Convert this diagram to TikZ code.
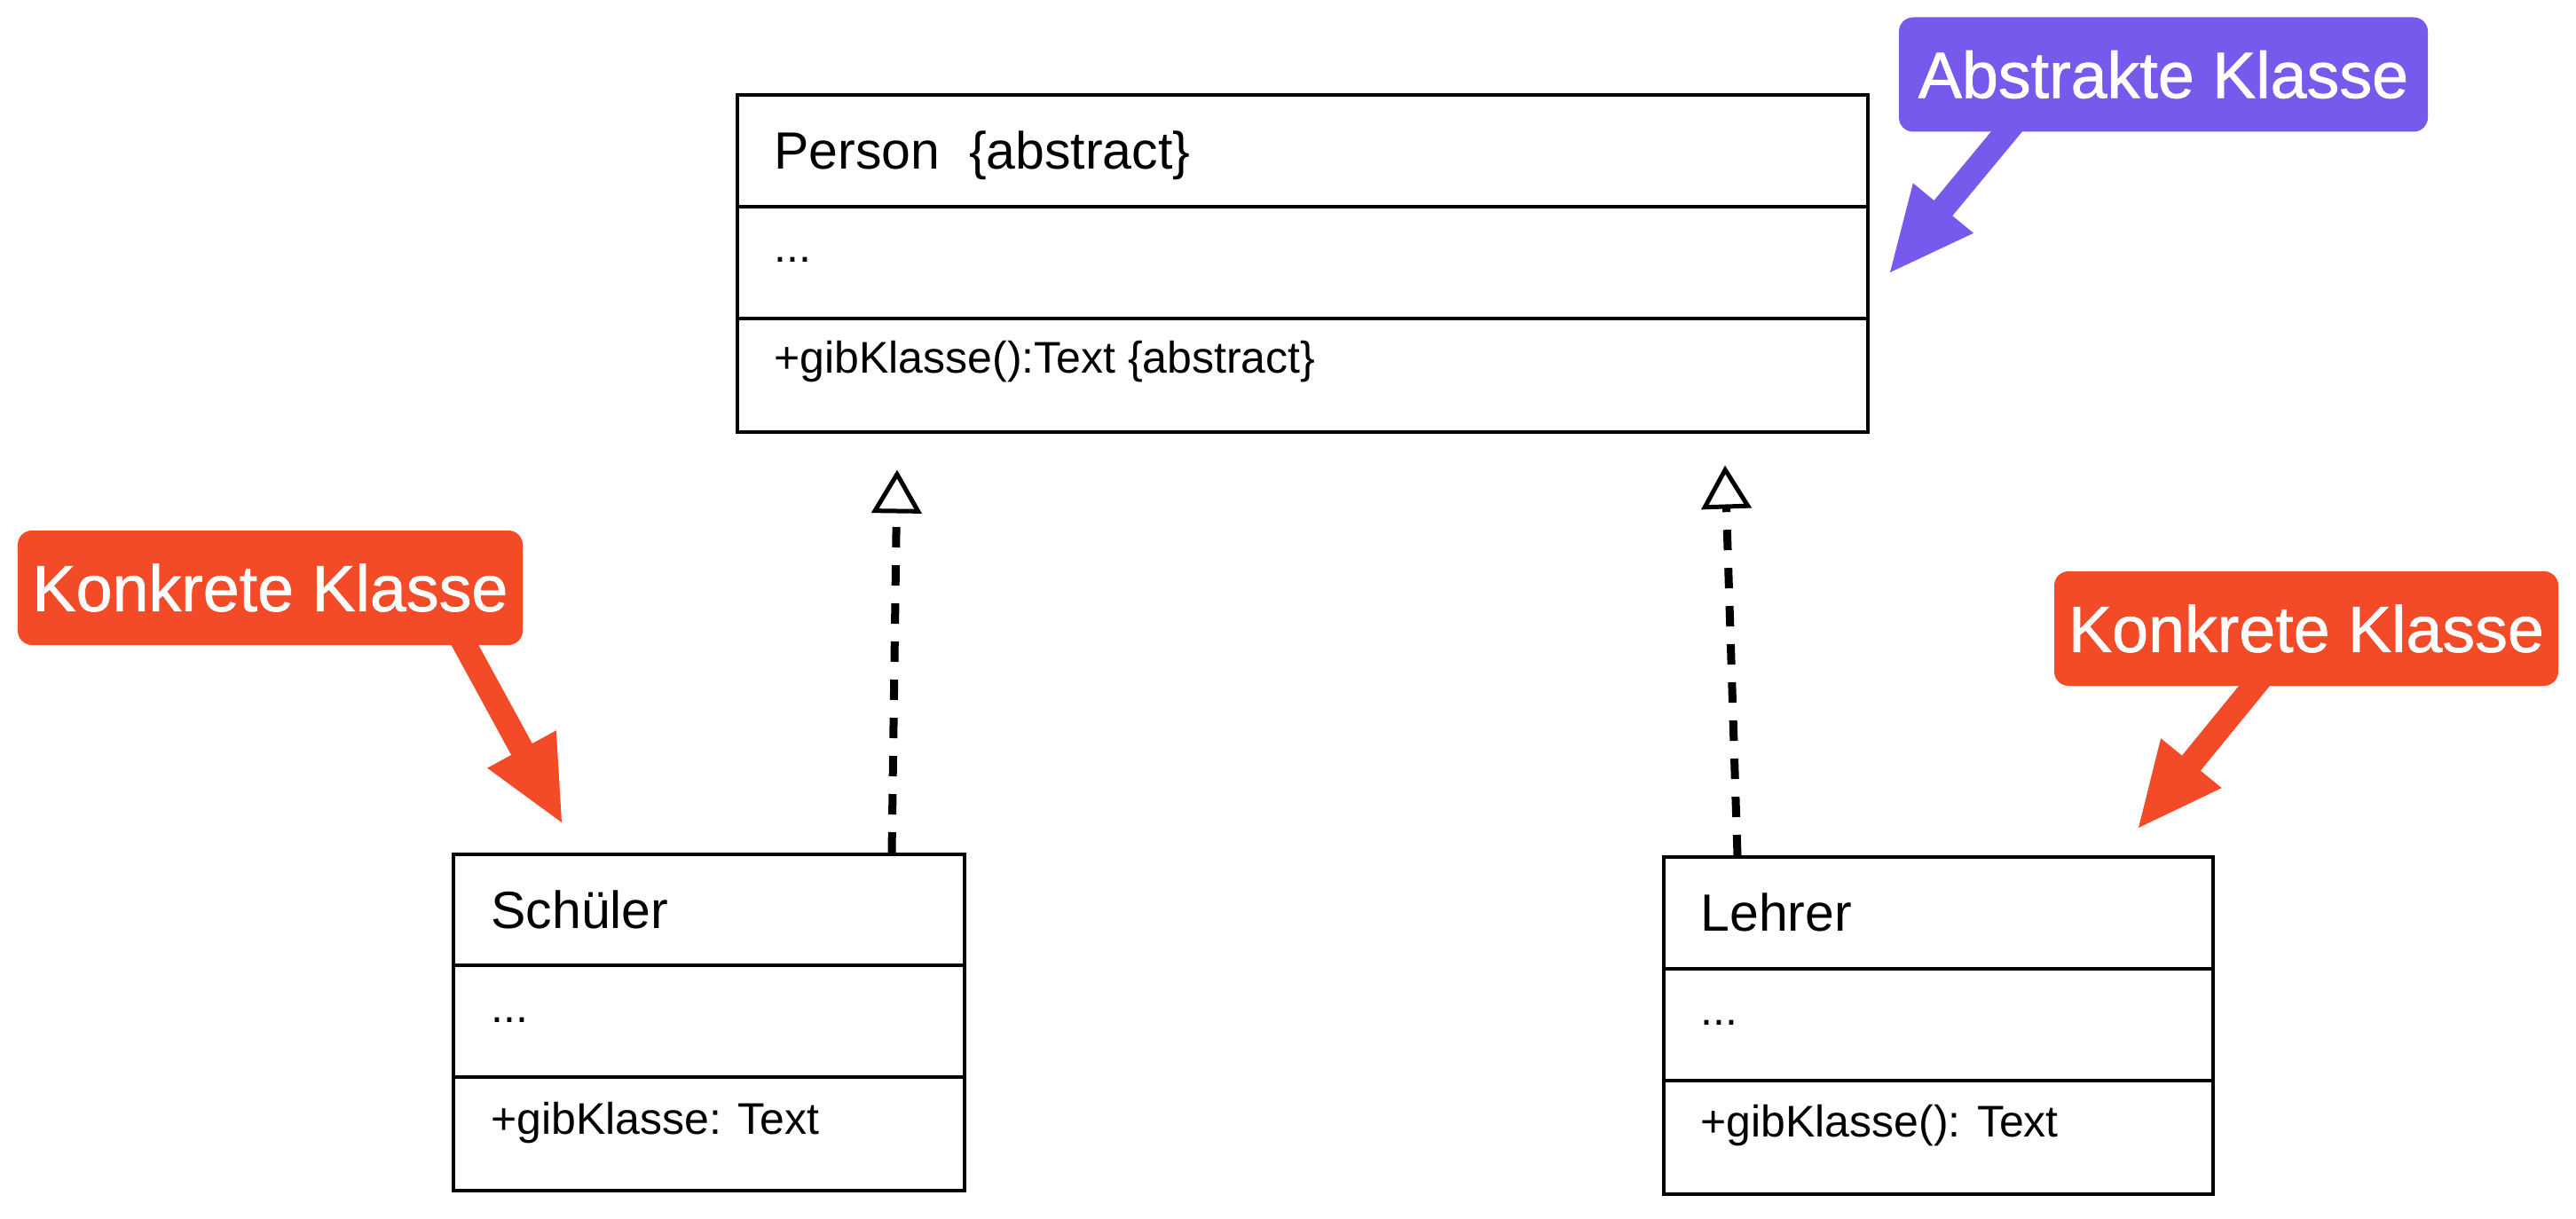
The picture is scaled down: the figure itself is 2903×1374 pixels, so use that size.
\documentclass[tikz,border=0pt]{standalone}
\usepackage{fontspec}
\setmainfont{Liberation Sans}
\newfontfamily\tagfont[FakeBold=1]{Liberation Sans}
\usetikzlibrary{arrows.meta,positioning}
\definecolor{abstraktcol}{RGB}{119,90,236}
\definecolor{konkretcol}{RGB}{243,74,39}

\begin{document}
\begin{tikzpicture}[x=0.5pt,y=-0.5pt,
    classbox/.style={draw, line width=2pt, inner sep=0pt},
    divider/.style={line width=2pt},
    classtitle/.style={anchor=base west, inner sep=0pt, font=\fontsize{29.5}{34}\selectfont},
    classtext/.style={anchor=base west, inner sep=0pt, font=\fontsize{25}{30}\selectfont},
    tag/.style={rounded corners=8pt, inner sep=0pt, minimum height=64.5pt, text=white, font=\tagfont\fontsize{36.8}{44}\selectfont},
    tagarrow/.style={line width=13.5pt, -{Triangle[width=44pt,length=47pt,line width=1pt]}},
    realize/.style={line width=4.5pt, dash pattern=on 11.5pt off 10pt, -{Triangle[open,width=28pt,length=24.5pt,line width=2.5pt]}}]

    \useasboundingbox (0,0) rectangle (2903,1374);

    \node (person) [classbox, minimum width=637pt, minimum height=190pt] at (1468,297.5) {};
    \draw[divider] ([shift={(0,127.5)}]person.north west) -- ([shift={(0,127.5)}]person.north east);
    \draw[divider] ([shift={(0,253.5)}]person.north west) -- ([shift={(0,253.5)}]person.north east);
    \node (persontitle) [classtitle] at ([shift={(43,85.5)}]person.north west) {Person~~\{abstract\}};
    \node (personattr) [classtext] at ([shift={(43,190.5)}]person.north west) {...};
    \node (personop) [classtext] at ([shift={(43,315.5)}]person.north west) {+gibKlasse():Text \{abstract\}};

    \node (schueler) [classbox, minimum width=288pt, minimum height=189.5pt] at (799,1152.5) {};
    \draw[divider] ([shift={(0,127)}]schueler.north west) -- ([shift={(0,127)}]schueler.north east);
    \draw[divider] ([shift={(0,253)}]schueler.north west) -- ([shift={(0,253)}]schueler.north east);
    \node (schuelertitle) [classtitle] at ([shift={(44,85)}]schueler.north west) {Schüler};
    \node (schuelerattr) [classtext] at ([shift={(44,191)}]schueler.north west) {...};
    \node (schuelerop) [classtext] at ([shift={(44,317)}]schueler.north west) {+gibKlasse: Text};

    \node (lehrer) [classbox, minimum width=309.5pt, minimum height=190pt] at (2184.5,1156) {};
    \draw[divider] ([shift={(0,128)}]lehrer.north west) -- ([shift={(0,128)}]lehrer.north east);
    \draw[divider] ([shift={(0,254)}]lehrer.north west) -- ([shift={(0,254)}]lehrer.north east);
    \node (lehrertitle) [classtitle] at ([shift={(43,85)}]lehrer.north west) {Lehrer};
    \node (lehrerattr) [classtext] at ([shift={(43,191)}]lehrer.north west) {...};
    \node (lehrerop) [classtext] at ([shift={(43,317)}]lehrer.north west) {+gibKlasse(): Text};

    \coordinate (schuelertip) at ([shift={(-457,40)}]person.south);
    \coordinate (lehrertip) at ([shift={(476,35)}]person.south);
    \draw[realize] ([shift={(206,0)}]schueler.north) -- (schuelertip);
    \draw[realize] ([shift={(-226.5,0)}]lehrer.north) -- (lehrertip);

    \node (abstrakt) [tag, fill=abstraktcol, minimum width=298pt] at (2438,84) {Abstrakte Klasse};
    \node (konkretlinks) [tag, fill=konkretcol, minimum width=284.5pt] at (304.5,662.5) {Konkrete Klasse};
    \node (konkretrechts) [tag, fill=konkretcol, minimum width=284pt] at (2599,708.5) {Konkrete Klasse};

    \coordinate (abstrakttip) at (2130,307);
    \coordinate (konkretlinkstip) at (633,927);
    \coordinate (konkretrechtstip) at (2410,933);
    \draw[tagarrow, abstraktcol] ([shift={(-167.5,-11.6)}]abstrakt.south) -- (abstrakttip);
    \draw[tagarrow, konkretcol] ([shift={(212.5,-13)}]konkretlinks.south) -- (konkretlinkstip);
    \draw[tagarrow, konkretcol] ([shift={(-49,-12)}]konkretrechts.south) -- (konkretrechtstip);
\end{tikzpicture}
\end{document}
